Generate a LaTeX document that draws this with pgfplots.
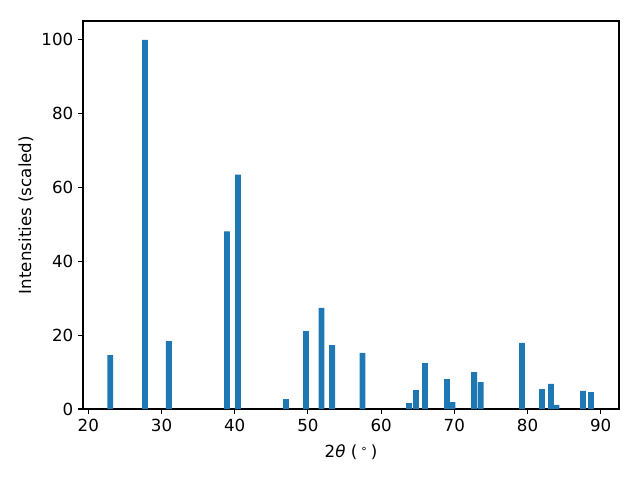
\documentclass[border=0pt]{standalone}
\usepackage{pgfplots}
\pgfplotsset{compat=1.18}
\usepackage{fontspec}
\setmainfont{DejaVu Sans}
\definecolor{mplblue}{HTML}{1F77B4}

\begin{document}
\begin{tikzpicture}
\useasboundingbox (-59.8pt,-51.1pt) rectangle (401.0pt,294.5pt);
\begin{axis}[
    at={(0,0)}, anchor=south west,
    scale only axis,
    width=385.9pt, height=279.4pt,
    xmin=19.28, xmax=92.5,
    ymin=0, ymax=105.1,
    xtick={20,30,...,90},
    ytick={0,20,...,100},
    tick align=outside,
    tick pos=left,
    major tick length=3.5pt,
    every tick/.style={black, line width=0.8pt},
    axis line style={line width=0.8pt},
    tick label style={font=\fontsize{12}{14}\selectfont},
    label style={font=\fontsize{12}{14}\selectfont},
    /pgf/number format/assume math mode=true,
    xlabel={2\textit{θ} (\kern0.2em\raisebox{0.55ex}{\fontsize{8}{9}\selectfont ∘}\kern0.2em)},
    xlabel style={yshift=-3pt},
    ylabel={Intensities (scaled)},
    ylabel style={yshift=-1pt},
]
\addplot[ybar, bar width=0.8, fill=mplblue, draw=none] coordinates {
    (23.0, 14.6) (27.75, 100) (31.0, 18.4) (38.95, 48.1) (40.45, 63.5)
    (47.0, 2.7) (49.74, 21.1) (51.86, 27.4) (53.3, 17.3) (57.46, 15.2)
    (63.8, 1.6) (64.77, 5.1) (65.99, 12.4)
    (69.0, 8.1) (69.75, 1.9) (72.7, 10.0) (73.6, 7.3)
    (79.25, 17.9) (81.98, 5.4) (83.2, 6.8) (83.96, 1.1)
    (87.58, 4.9) (88.67, 4.6)
};
\end{axis}
\end{tikzpicture}
\end{document}
